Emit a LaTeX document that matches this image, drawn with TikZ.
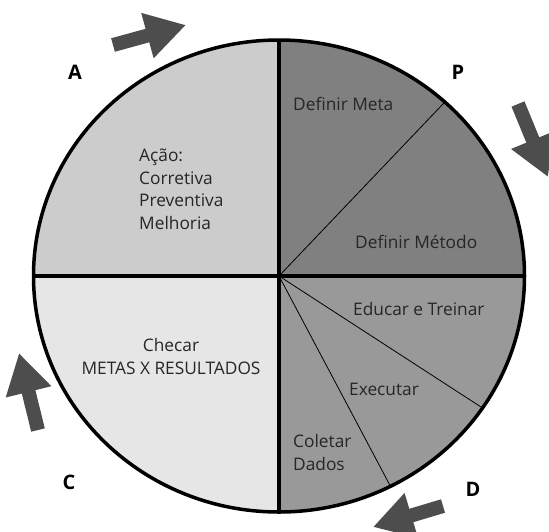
\documentclass[tikz,border=0pt]{standalone}
\usepackage{fontspec}
\setmainfont{Open Sans}
\usetikzlibrary{arrows.meta}
\definecolor{actfill}{HTML}{CCCCCC}
\definecolor{planfill}{HTML}{808080}
\definecolor{dofill}{HTML}{999999}
\definecolor{checkfill}{HTML}{E6E6E6}
\definecolor{arrowgray}{HTML}{4D4D4D}
\definecolor{textgray}{HTML}{262626}
\tikzset{rim/.style={line width=3.5pt},
  cut/.style={line width=0.8pt},
  txt/.style={font=\fontsize{17.3}{22.5}\selectfont, text=textgray, inner sep=0pt},
  letter/.style={font=\fontsize{20}{20}\selectfont\bfseries, text=black, inner sep=0pt},
  bigarrow/.style={draw=arrowgray, line width=14pt, -{Triangle[length=40pt, width=44pt]}}}

\begin{document}
\begin{tikzpicture}[x=1pt, y=-1pt]
    \useasboundingbox (0,0) rectangle (549,531);
    \coordinate (o) at (279,276);
    \coordinate (n) at (279,40);
    \coordinate (s) at (279,512);
    \coordinate (w) at (33.5,276);
    \coordinate (e) at (524.5,276);
    \path (o) ++(-47.5:245.5 and 236) coordinate (pcut);
    \path (o) ++(34:245.5 and 236) coordinate (dcut1);
    \path (o) ++(63:245.5 and 236) coordinate (dcut2);
    \begin{scope}
      \clip (o) ellipse [x radius=245.5, y radius=236];
      \fill[actfill] (o) rectangle (0,0);
      \fill[planfill] (o) rectangle (549,0);
      \fill[dofill] (o) rectangle (549,531);
      \fill[checkfill] (o) rectangle (0,531);
    \end{scope}
    \draw[cut] (o) -- (pcut);
    \draw[cut] (o) -- (dcut1);
    \draw[cut] (o) -- (dcut2);
    \draw[rim] (n) -- (s);
    \draw[rim] (w) -- (e);
    \draw[rim] (o) ellipse [x radius=245.5, y radius=236];
    % arrows round the circle
    \coordinate (a1t) at (113,45);  \coordinate (a1h) at (186,25);
    \coordinate (a2t) at (518,104); \coordinate (a2h) at (548,177);
    \coordinate (a3t) at (443,506); \coordinate (a3h) at (373,527);
    \coordinate (a4t) at (38,430);  \coordinate (a4h) at (19,353);
    \draw[bigarrow] (a1t) -- (a1h);
    \draw[bigarrow] (a2t) -- (a2h);
    \draw[bigarrow] (a3t) -- (a3h);
    \draw[bigarrow] (a4t) -- (a4h);
    % texts (base = last line)
    \node[txt, align=left, anchor=base west] (acao) at (139,229) {Ação:\\Corretiva\\Preventiva\\Melhoria};
    \node[txt, anchor=base west] (meta) at (293,110) {Definir Meta};
    \node[txt, anchor=base west] (metodo) at (355,248) {Definir Método};
    \node[txt, anchor=base west] (educar) at (353,315) {Educar e Treinar};
    \node[txt, anchor=base west] (executar) at (349,395) {Executar};
    \node[txt, align=left, anchor=base west] (coletar) at (293,470) {Coletar\\Dados};
    \node[txt, align=center, anchor=base] (checar) at (171,374) {Checar\\METAS X RESULTADOS};
    \node[letter] (la) at (75,72) {A};
    \node[letter] (lp) at (458,72) {P};
    \node[letter] (lc) at (69,482) {C};
    \node[letter] (ld) at (473,489) {D};
\end{tikzpicture}
\end{document}
